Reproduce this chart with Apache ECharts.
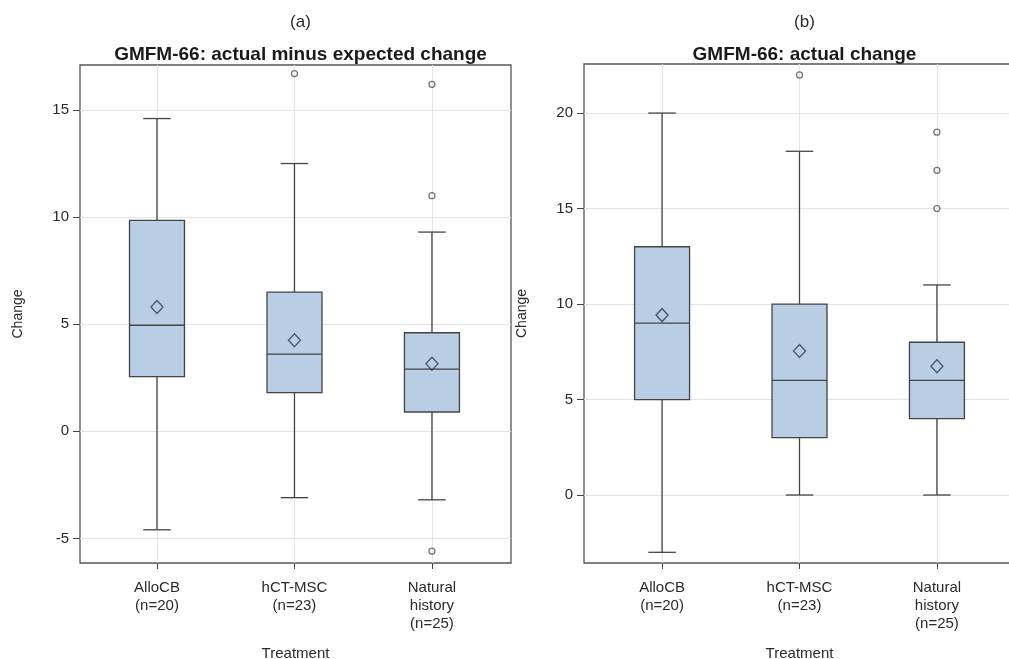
<!DOCTYPE html>
<html>
<head>
<meta charset="utf-8">
<script src="https://cdn.jsdelivr.net/npm/echarts@6/dist/echarts.min.js"></script>
<style>
html,body{margin:0;padding:0;background:#fff;}
#chart{width:1009px;height:659px;}
</style>
</head>
<body>
<div id="chart"></div>
<script>
// ---- data ----
const categories = ['AlloCB\n(n=20)', 'hCT-MSC\n(n=23)', 'Natural\nhistory\n(n=25)'];
const panelLabels = ['(a)', '(b)'];
const panelTitles = ['GMFM-66: actual minus expected change', 'GMFM-66: actual change'];
const yTicksA = [-5, 0, 5, 10, 15];
const yTicksB = [0, 5, 10, 15, 20];
const xTicks = [1, 2, 3];
// [lower whisker, Q1, median, Q3, upper whisker]
const boxA = [
  [-4.6, 2.55, 4.95, 9.85, 14.6],
  [-3.1, 1.8, 3.6, 6.5, 12.5],
  [-3.2, 0.9, 2.9, 4.6, 9.3]
];
const meanA = [5.8, 4.25, 3.15];
const outlierCatA = [2, 3, 3, 3];
const outlierValA = [16.7, 16.2, 11.0, -5.6];

const boxB = [
  [-3, 5, 9, 13, 20],
  [0, 3, 6, 10, 18],
  [0, 4, 6, 8, 11]
];
const meanB = [9.42, 7.54, 6.74];
const outlierCatB = [2, 3, 3, 3];
const outlierValB = [22, 19, 17, 15];

// ---- style ----
const FONT = 'Liberation Sans, Arial, sans-serif';
const TXT = '#2a2a2a';
const LINE = '#444';
const FILL = '#b9cde5';
const GRID = '#e4e4e4';

function renderBox(params, api) {
  const x = api.value(0);
  const pLo = api.coord([x, api.value(1)]);
  const pQ1 = api.coord([x, api.value(2)]);
  const pMed = api.coord([x, api.value(3)]);
  const pQ3 = api.coord([x, api.value(4)]);
  const pHi = api.coord([x, api.value(5)]);
  const bw = api.size([0.4, 0])[0];
  const cw = api.size([0.2, 0])[0];
  const ls = {stroke: LINE, lineWidth: 1.3};
  return {
    type: 'group',
    children: [
      {type: 'line', shape: {x1: pLo[0], y1: pLo[1], x2: pQ1[0], y2: pQ1[1]}, style: ls},
      {type: 'line', shape: {x1: pQ3[0], y1: pQ3[1], x2: pHi[0], y2: pHi[1]}, style: ls},
      {type: 'line', shape: {x1: pLo[0] - cw / 2, y1: pLo[1], x2: pLo[0] + cw / 2, y2: pLo[1]}, style: ls},
      {type: 'line', shape: {x1: pHi[0] - cw / 2, y1: pHi[1], x2: pHi[0] + cw / 2, y2: pHi[1]}, style: ls},
      {type: 'rect', shape: {x: pQ3[0] - bw / 2, y: pQ3[1], width: bw, height: pQ1[1] - pQ3[1]},
        style: {fill: FILL, stroke: LINE, lineWidth: 1.3}},
      {type: 'line', shape: {x1: pMed[0] - bw / 2, y1: pMed[1], x2: pMed[0] + bw / 2, y2: pMed[1]}, style: ls}
    ]
  };
}

function xAxisCfg(gridIndex, min, max) {
  return {
    type: 'value', gridIndex: gridIndex, min: min, max: max, position: 'bottom',
    name: 'Treatment', nameLocation: 'middle', nameGap: 83,
    nameTextStyle: {fontFamily: FONT, fontSize: 15, color: TXT},
    axisLine: {show: false, onZero: false},
    axisTick: {show: true, customValues: xTicks, length: 6, lineStyle: {color: LINE}},
    axisLabel: {customValues: xTicks, formatter: v => categories[Math.round(v) - 1] || '',
      fontFamily: FONT, fontSize: 15, color: TXT, lineHeight: 18, margin: 16},
    splitLine: {show: true, lineStyle: {color: GRID, width: 1}}
  };
}
function yAxisCfg(gridIndex, min, max, ticks) {
  return {
    type: 'value', gridIndex: gridIndex, min: min, max: max, position: 'left',
    name: 'Change', nameLocation: 'middle', nameGap: 55, nameRotate: 90,
    nameTextStyle: {fontFamily: FONT, fontSize: 14, color: TXT},
    axisLine: {show: false, onZero: false},
    axisTick: {show: true, customValues: ticks, length: 7, lineStyle: {color: LINE}},
    axisLabel: {customValues: ticks, fontFamily: FONT, fontSize: 15, color: TXT, margin: 11},
    splitLine: {show: true, lineStyle: {color: GRID, width: 1}}
  };
}

const seriesFor = (gi, box, mean, oc, ov) => [
  {type: 'custom', xAxisIndex: gi, yAxisIndex: gi, renderItem: renderBox,
    encode: {x: 0, y: [1, 2, 3, 4, 5]},
    data: box.map((b, i) => [i + 1].concat(b)), z: 2},
  {type: 'scatter', xAxisIndex: gi, yAxisIndex: gi, symbol: 'diamond', symbolSize: [12, 13],
    itemStyle: {color: 'rgba(0,0,0,0)', borderColor: '#2e3d52', borderWidth: 1.4},
    data: mean.map((m, i) => [i + 1, m]), z: 3},
  {type: 'scatter', xAxisIndex: gi, yAxisIndex: gi, symbol: 'circle', symbolSize: 6,
    itemStyle: {color: 'rgba(0,0,0,0)', borderColor: '#555', borderWidth: 1.3},
    data: oc.map((c, i) => [c, ov[i]]), z: 3}
];

const chart = echarts.init(document.getElementById('chart'), null, {renderer: 'canvas'});
chart.setOption({
  animation: false,
  backgroundColor: '#fff',
  title: [
    {text: panelLabels[0], left: 295.5, top: 9, textAlign: 'center',
      textStyle: {fontFamily: FONT, fontSize: 17, fontWeight: 'normal', color: TXT}},
    {text: panelTitles[0], left: 295.5, top: 40, textAlign: 'center',
      textStyle: {fontFamily: FONT, fontSize: 19, fontWeight: 'bold', color: '#1a1a1a'}},
    {text: panelLabels[1], left: 799.5, top: 9, textAlign: 'center',
      textStyle: {fontFamily: FONT, fontSize: 17, fontWeight: 'normal', color: TXT}},
    {text: panelTitles[1], left: 799.5, top: 40, textAlign: 'center',
      textStyle: {fontFamily: FONT, fontSize: 19, fontWeight: 'bold', color: '#1a1a1a'}}
  ],
  grid: [
    {left: 80, width: 431, top: 65, height: 498, show: true, borderColor: '#555', borderWidth: 1.3,
      backgroundColor: 'transparent', outerBoundsMode: 'none', containLabel: false},
    {left: 584, width: 431, top: 64, height: 499, show: true, borderColor: '#555', borderWidth: 1.3,
      backgroundColor: 'transparent', outerBoundsMode: 'none', containLabel: false}
  ],
  xAxis: [xAxisCfg(0, 0.44, 3.575), xAxisCfg(1, 0.432, 3.568)],
  yAxis: [yAxisCfg(0, -6.15, 17.1, yTicksA), yAxisCfg(1, -3.56, 22.57, yTicksB)],
  series: seriesFor(0, boxA, meanA, outlierCatA, outlierValA)
    .concat(seriesFor(1, boxB, meanB, outlierCatB, outlierValB))
});
</script>
</body>
</html>
